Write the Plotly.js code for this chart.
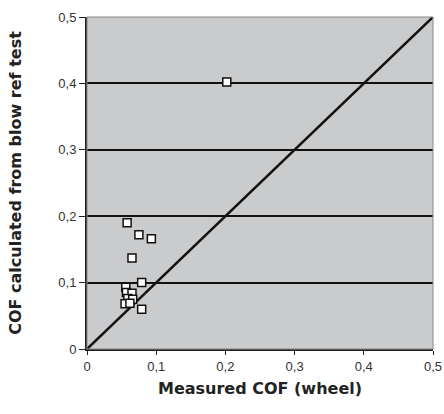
<!DOCTYPE html>
<html><head><meta charset="utf-8">
<script src="https://cdn.plot.ly/plotly-3.0.1.min.js"></script>
<style>html,body{margin:0;padding:0;background:#fff}#c{width:444px;height:414px}</style>
</head><body><div id="c"></div>
<script>
const measured = [0.202, 0.058, 0.075, 0.093, 0.065, 0.079, 0.056, 0.057, 0.065, 0.059, 0.066, 0.055, 0.062, 0.079];
const calculated = [0.402, 0.190, 0.172, 0.166, 0.137, 0.100, 0.093, 0.085, 0.084, 0.076, 0.075, 0.068, 0.069, 0.060];
const refLineX = [0, 0.5];
const refLineY = [0, 0.5];
const tickVals = [0, 0.1, 0.2, 0.3, 0.4, 0.5];
const tickText = ['0', '0,1', '0,2', '0,3', '0,4', '0,5'];

const traces = [
  {x: refLineX, y: refLineY, mode: 'lines', line: {color: '#111', width: 2.5}, hoverinfo: 'skip', cliponaxis: false},
  {x: measured, y: calculated, mode: 'markers', type: 'scatter',
   marker: {symbol: 'square', size: 8, color: '#fff', line: {color: '#111', width: 1.5}}}
];
const axisFont = {family: 'Liberation Sans, Arial, sans-serif', size: 13, color: '#333'};
const titleFont = {family: 'DejaVu Sans, sans-serif', size: 16, color: '#222', weight: 'bold'};
const layout = {
  width: 444, height: 414,
  margin: {l: 87, r: 11, t: 17, b: 65},
  paper_bgcolor: '#fff', plot_bgcolor: '#c9cbcc',
  showlegend: false,
  shapes: [{type: 'rect', xref: 'paper', yref: 'paper', x0: 0, y0: 0, x1: 1, y1: 1, line: {color: '#888', width: 1}}],
  xaxis: {range: [0, 0.5], tickvals: tickVals, ticktext: tickText, showgrid: false, zeroline: false,
    showline: true, linecolor: '#222', linewidth: 2, ticks: 'outside', ticklen: 4, tickcolor: '#222',
    tickfont: axisFont, title: {text: 'Measured COF (wheel)', font: titleFont, standoff: 10}},
  yaxis: {range: [0, 0.5], tickvals: tickVals, ticktext: tickText, showgrid: true, gridcolor: '#111', gridwidth: 2,
    zeroline: false, showline: true, linecolor: '#222', linewidth: 2, ticks: 'outside', ticklen: 6, tickcolor: '#222',
    tickfont: axisFont, title: {text: 'COF calculated from blow ref test', font: titleFont, standoff: 33}}
};
Plotly.newPlot('c', traces, layout, {staticPlot: true});
</script></body></html>
